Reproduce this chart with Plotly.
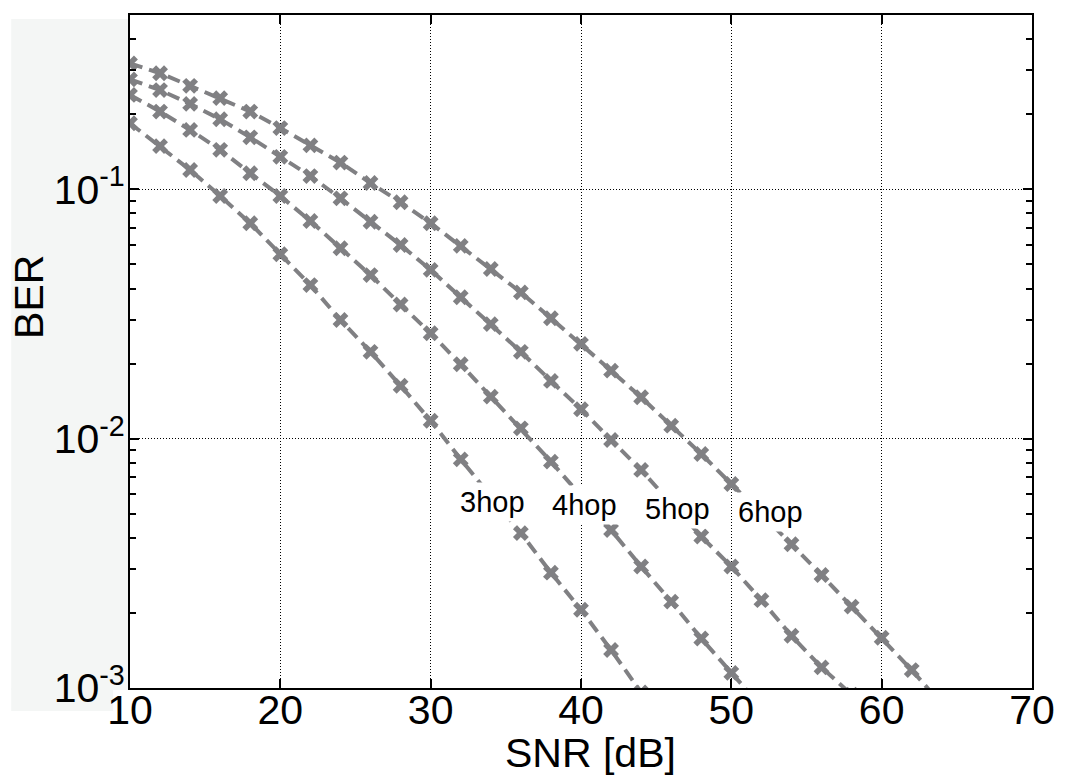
import plotly.graph_objects as go

# SNR grid (dB) shared by all curves
snr = [10, 12, 14, 16, 18, 20, 22, 24, 26, 28, 30, 32, 34, 36, 38, 40,
       42, 44, 46, 48, 50, 52, 54, 56, 58, 60, 62, 64]

# BER per number of hops
ber_3hop = [0.184, 0.149, 0.1195, 0.094, 0.0731, 0.0549, 0.0413, 0.0299,
            0.0223, 0.0163, 0.0118, 0.00826, 0.00588, 0.00418, 0.00290,
            0.00206, 0.00142, 0.00096]
ber_4hop = [0.239, 0.205, 0.173, 0.144, 0.116, 0.094, 0.0746, 0.058,
            0.0453, 0.0345, 0.02646, 0.01988, 0.01474, 0.0110, 0.00809,
            0.0059, 0.00430, 0.00307, 0.00222, 0.00158, 0.00115, 0.00084]
ber_5hop = [0.276, 0.250, 0.220, 0.191, 0.1616, 0.135, 0.113, 0.092,
            0.0741, 0.0598, 0.0475, 0.0369, 0.0288, 0.0223, 0.01704,
            0.01312, 0.00988, 0.00749, 0.0055, 0.00405, 0.00307, 0.00225,
            0.00162, 0.00121, 0.00094]
ber_6hop = [0.320, 0.292, 0.260, 0.232, 0.205, 0.176, 0.150, 0.128,
            0.106, 0.0887, 0.0731, 0.0593, 0.0479, 0.0386, 0.0304, 0.0240,
            0.01874, 0.01466, 0.01127, 0.00868, 0.00658, 0.0050, 0.00377,
            0.00284, 0.00212, 0.00159, 0.00118, 0.00086]

series = [ber_3hop, ber_4hop, ber_5hop, ber_6hop]
hop_labels = ["3hop", "4hop", "5hop", "6hop"]
# label anchor (SNR, log10 BER)
label_pos = [(34.1, -2.255), (40.2, -2.268), (46.4, -2.282), (52.6, -2.293)]

x_ticks = [10, 20, 30, 40, 50, 60, 70]
y_ticks = [1e-3, 1e-2, 1e-1]
y_ticktext = ["10<sup>-3</sup>", "10<sup>-2</sup>", "10<sup>-1</sup>"]

GRAY = "#808083"
FONT = "Arial, Liberation Sans, Helvetica, sans-serif"

fig = go.Figure()
for ber in series:
    fig.add_trace(go.Scatter(
        x=snr[:len(ber)], y=ber, mode="lines+markers",
        line=dict(color=GRAY, width=4, dash="13px,7px"),
        marker=dict(symbol="x", size=14, color=GRAY, line=dict(width=0)),
        showlegend=False, cliponaxis=True,
    ))

for text, (lx, ly) in zip(hop_labels, label_pos):
    fig.add_annotation(x=lx, y=ly, xref="x", yref="y", text=text,
                       xanchor="center", yanchor="middle",
                       showarrow=False, bgcolor="white", borderpad=3,
                       font=dict(family=FONT, size=29, color="black"))

# axis titles
fig.add_annotation(x=-0.112, y=0.581, xref="paper", yref="paper", text="BER",
                   xanchor="center", yanchor="middle",
                   textangle=-90, showarrow=False,
                   font=dict(family=FONT, size=41, color="black"))
fig.add_annotation(x=0.5104, y=-0.097, xref="paper", yref="paper",
                   text="SNR [dB]", xanchor="center", yanchor="middle",
                   showarrow=False,
                   font=dict(family=FONT, size=41, color="black"))

# light panel behind the y tick labels
panel = "#f4f6f5"
fig.add_shape(type="rect", xref="paper", yref="paper", layer="below",
              x0=-0.1317, x1=-0.002, y0=-0.003, y1=0.994,
              fillcolor=panel, line=dict(width=0))
fig.add_shape(type="rect", xref="paper", yref="paper", layer="below",
              x0=-0.1317, x1=-0.0187, y0=-0.0342, y1=0.0,
              fillcolor=panel, line=dict(width=0))

axis_common = dict(
    showline=True, linecolor="black", linewidth=2, mirror="ticks",
    ticks="inside", tickcolor="black", tickwidth=1.5,
    showgrid=True, gridcolor="black", gridwidth=1, griddash="1px,2px",
    zeroline=False,
    tickfont=dict(family=FONT, size=41, color="black"),
)

fig.update_xaxes(range=[10, 70], tickvals=x_ticks, ticklen=9,
                 ticklabelstandoff=-15, **axis_common)
fig.update_yaxes(type="log", range=[-3, -0.301], tickvals=y_ticks,
                 ticktext=y_ticktext, ticklen=9, ticklabelstandoff=-5,
                 minor=dict(ticks="inside", ticklen=6, dtick="D1",
                            tickcolor="black", tickwidth=1.5, showgrid=False),
                 **axis_common)

fig.update_layout(
    width=1067, height=778,
    margin=dict(l=130, r=26, t=15, b=90),
    paper_bgcolor="white", plot_bgcolor="white",
    font=dict(family=FONT, color="black"),
)

fig.write_html("out.html")
